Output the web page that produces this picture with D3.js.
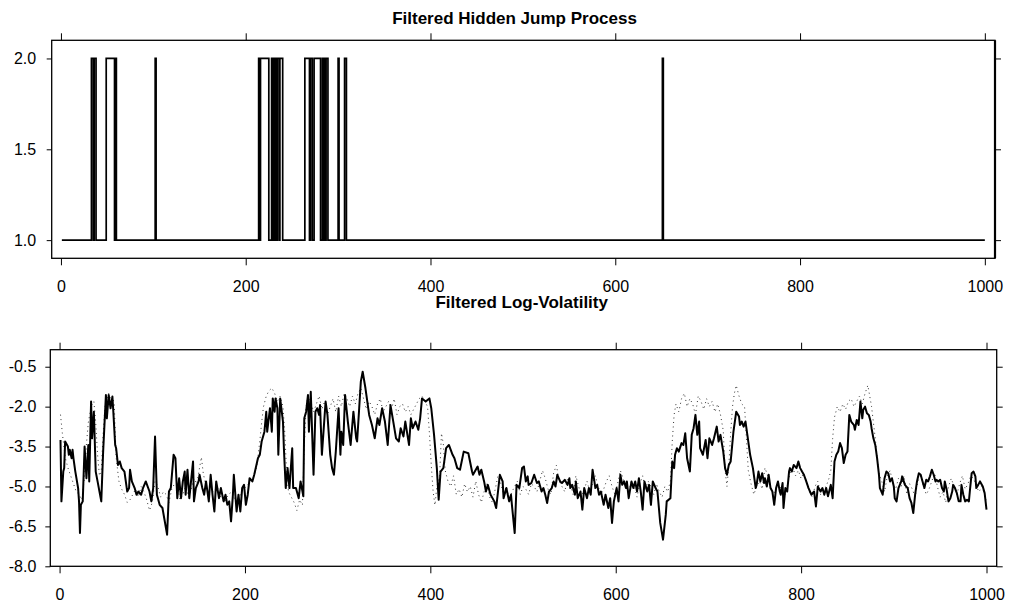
<!DOCTYPE html>
<html><head><meta charset="utf-8">
<script src="https://cdn.jsdelivr.net/npm/d3@7"></script>
<style>
body{margin:0;background:#fff}
svg{display:block}
text{font-family:"Liberation Sans",Arial,Helvetica,sans-serif}
</style>
</head><body>
<svg id="chart" width="1010" height="608"></svg>
<script>
// ---- tick labels / titles ----
const xTicks = [0, 200, 400, 600, 800, 1000];
const jumpTicks = [1.0, 1.5, 2.0];
const volTicks = [-0.5, -2.0, -3.5, -5.0, -6.5, -8.0];
const titles = ["Filtered Hidden Jump Process", "Filtered Log-Volatility"];

// ---- hidden jump process: change points (time, state) ----
const jumpT = [1,33,35,36,38,49,58,59,60,102,103,214,215,216,225,228,229,230,231,232,233,234,236,237,240,264,269,270,272,274,281,283,284,285,286,287,289,300,301,307,309,651,652,1000];
const jumpState = [1,2,1,2,1,2,1,2,1,2,1,2,1,2,1,2,1,2,1,2,1,2,1,2,1,2,1,2,1,2,1,2,1,2,1,2,1,2,1,2,1,2,1,1];

// ---- filtered log-volatility (solid), [time, value] ----
const filteredLogVol = [
[1,-3.25],[2,-5.56],[4,-4.44],[5,-4.31],[6,-3.31],[9,-3.50],[10,-3.81],[11,-3.62],[13,-3.94],[14,-3.62],[15,-3.94],[17,-4.44],[20,-5.06],[21,-5.56],[22,-6.75],[23,-5.69],[25,-5.56],[27,-3.50],[29,-4.69],[31,-3.44],[32,-4.81],[34,-1.81],[35,-3.19],[37,-2.19],[39,-4.44],[41,-4.81],[45,-5.56],[47,-3.69],[50,-1.56],[51,-2.44],[53,-1.56],[55,-2.06],[57,-1.62],[58,-2.19],[60,-3.44],[61,-3.56],[63,-4.19],[65,-4.06],[67,-4.31],[70,-4.44],[73,-5.19],[75,-5.06],[76,-4.37],[78,-4.81],[81,-5.06],[83,-5.31],[85,-5.19],[88,-5.31],[90,-5.06],[93,-4.81],[97,-5.19],[99,-5.56],[101,-5.06],[103,-3.12],[105,-5.31],[108,-5.69],[111,-5.81],[116,-6.81],[118,-5.19],[120,-5.06],[123,-3.81],[125,-3.94],[127,-5.44],[129,-4.69],[131,-5.44],[133,-4.81],[135,-4.44],[136,-5.31],[138,-4.37],[140,-5.44],[144,-4.06],[145,-5.56],[147,-5.06],[150,-4.81],[151,-4.56],[154,-5.06],[156,-5.31],[158,-4.81],[161,-5.56],[163,-4.56],[165,-5.31],[167,-5.94],[169,-4.81],[172,-5.44],[174,-5.06],[177,-5.56],[179,-5.31],[181,-5.69],[183,-5.56],[185,-6.31],[187,-5.31],[188,-4.56],[191,-5.94],[193,-5.31],[195,-5.94],[197,-5.06],[199,-4.94],[201,-5.69],[203,-5.31],[205,-4.69],[208,-4.81],[210,-4.56],[214,-3.94],[216,-3.81],[218,-3.31],[221,-2.94],[223,-2.19],[224,-2.94],[227,-2.06],[229,-2.94],[230,-1.69],[232,-2.19],[233,-1.69],[235,-2.06],[236,-3.81],[238,-1.69],[241,-2.56],[242,-3.56],[244,-5.06],[246,-4.31],
[248,-5.06],[251,-3.56],[252,-5.06],[255,-5.06],[258,-5.44],[260,-4.81],[263,-5.37],[264,-2.44],[266,-2.19],[268,-1.56],[269,-2.94],[271,-1.44],[274,-4.56],[276,-2.19],[278,-2.06],[280,-2.31],[281,-1.94],[283,-3.81],[287,-1.81],[289,-2.31],[292,-3.81],[294,-4.31],[296,-4.56],[298,-3.69],[301,-2.06],[303,-3.81],[304,-2.94],[306,-3.44],[308,-1.56],[311,-2.56],[314,-3.44],[317,-2.19],[320,-3.19],[321,-3.31],[323,-2.19],[325,-1.06],[327,-0.69],[330,-1.31],[334,-2.31],[337,-2.69],[340,-3.19],[343,-2.44],[345,-2.69],[348,-2.06],[351,-2.56],[354,-3.44],[357,-1.94],[360,-2.56],[363,-3.19],[366,-3.31],[368,-2.81],[371,-3.12],[373,-2.56],[377,-3.44],[379,-2.44],[381,-2.81],[384,-2.56],[387,-2.87],[389,-2.44],[391,-1.69],[395,-1.81],[399,-1.69],[401,-2.06],[404,-3.06],[407,-4.31],[409,-5.50],[411,-4.44],[414,-4.31],[417,-3.56],[420,-3.44],[424,-3.81],[426,-3.94],[429,-4.31],[432,-4.37],[436,-3.69],[441,-3.75],[445,-4.44],[446,-4.56],[451,-4.25],[453,-4.56],[455,-4.37],[458,-4.81],[460,-5.19],[462,-4.94],[465,-5.31],[469,-5.56],[471,-5.81],[475,-4.56],[478,-4.81],[479,-5.44],[482,-5.06],[485,-5.56],[487,-5.31],[488,-5.69],[491,-6.75],[493,-4.94],[496,-5.06],[499,-4.31],
[501,-4.25],[503,-4.81],[505,-4.62],[506,-4.94],[509,-4.87],[512,-4.56],[515,-4.87],[517,-4.81],[520,-5.19],[522,-5.06],[524,-5.31],[526,-5.62],[528,-5.19],[531,-5.06],[533,-4.81],[535,-5.00],[537,-4.56],[540,-4.81],[542,-4.87],[545,-4.75],[548,-4.94],[550,-4.69],[551,-5.06],[553,-4.94],[556,-5.31],[557,-4.81],[559,-5.44],[562,-5.19],[564,-5.87],[566,-5.06],[569,-5.44],[571,-5.06],[573,-5.31],[575,-4.37],[577,-4.81],[578,-5.06],[580,-4.94],[582,-5.31],[584,-5.19],[587,-5.69],[589,-5.31],[592,-5.81],[594,-5.44],[596,-6.37],[598,-5.56],[601,-5.06],[603,-5.56],[605,-4.56],[607,-4.94],[609,-4.81],[611,-5.06],[612,-4.81],[614,-5.44],[617,-4.81],[619,-5.06],[621,-4.81],[623,-5.19],[625,-4.69],[627,-5.19],[629,-5.87],[631,-4.81],[634,-5.19],[636,-4.94],[638,-5.69],[640,-4.81],[643,-5.06],[645,-5.19],[648,-6.37],[651,-7.00],[654,-6.06],[655,-5.56],[659,-5.44],[661,-4.06],[663,-4.31],[664,-3.81],[666,-3.56],[668,-3.69],[671,-3.37],[673,-3.44],[675,-3.00],[677,-3.94],[680,-4.44],[682,-3.06],[684,-2.81],[686,-2.31],[688,-3.06],[690,-2.56],[691,-3.56],[694,-3.81],[697,-3.25],[699,-3.94],[701,-3.19],[704,-3.44],[706,-3.19],[709,-2.75],[711,-3.31],[713,-3.06],[716,-3.69],[718,-4.31],[720,-4.56],[722,-4.19],[724,-4.06],[727,-2.94],[730,-2.19],[733,-2.37],[734,-2.69],[736,-2.56],[738,-2.75],[740,-2.56],[742,-3.06],[745,-3.81],[748,-4.31],[751,-5.06],[752,-4.94],
[754,-4.44],[756,-4.81],[758,-4.50],[760,-4.87],[761,-4.69],[763,-5.00],[765,-4.56],[767,-5.06],[769,-5.19],[771,-5.69],[773,-5.06],[775,-4.81],[777,-5.19],[778,-5.31],[780,-4.87],[781,-5.81],[783,-5.06],[785,-5.19],[787,-4.44],[788,-4.31],[790,-4.44],[792,-4.19],[795,-4.31],[797,-4.06],[799,-4.31],[801,-4.44],[803,-4.56],[805,-4.75],[808,-5.06],[811,-5.31],[814,-5.19],[816,-5.75],[818,-5.00],[821,-5.19],[823,-5.06],[825,-5.31],[827,-5.06],[829,-5.37],[832,-4.94],[834,-5.44],[836,-4.06],[838,-3.81],[840,-3.69],[842,-3.37],[844,-3.56],[846,-4.12],[848,-3.81],[850,-3.69],[852,-2.31],[854,-2.56],[857,-2.69],[858,-2.87],[860,-2.50],[862,-2.69],[864,-1.81],[866,-2.44],[867,-2.12],[869,-2.00],[871,-2.25],[873,-2.31],[875,-2.56],[876,-2.81],[878,-3.19],[880,-3.44],[882,-3.94],[884,-4.56],[885,-5.06],[888,-5.31],[890,-4.69],[892,-4.44],[894,-4.50],[896,-4.81],[898,-4.69],[900,-5.00],[901,-5.44],[903,-5.56],[905,-5.06],[908,-4.81],[909,-4.62],[912,-4.94],[915,-5.06],[917,-5.44],[919,-5.62],[921,-6.00],[923,-5.31],[925,-4.81],[927,-4.50],[929,-4.56],[931,-4.81],[933,-5.06],[935,-4.75],[937,-4.81],[939,-4.62],[941,-4.37],[943,-4.56],[945,-4.81],[946,-4.75],[948,-4.81],[950,-4.75],[952,-5.06],[954,-5.19],[955,-4.81],[957,-5.12],[959,-5.56],[961,-5.44],[963,-5.19],[964,-4.94],[966,-5.06],[968,-5.25],[970,-5.56],[972,-5.56],[973,-4.94],[975,-5.31],[977,-5.56],[979,-5.50],[981,-5.56],[982,-5.19],[984,-4.50],[986,-4.44],[988,-4.62],[989,-5.06],[991,-4.94],[993,-4.81],[996,-5.00],[998,-5.25],[1000,-5.87]
];

// ---- dotted reference log-volatility, [time, value] ----
const referenceLogVol = [
[1,-2.3],[3,-3.0],[6,-3.9],[9,-4.3],[12,-4.6],[15,-4.9],[18,-5.2],[21,-5.3],[24,-5.5],[27,-4.6],[29,-3.4],[31,-2.6],[33,-2.2],[35,-1.9],[37,-1.8],[39,-2.6],[41,-3.8],[43,-4.6],[45,-4.4],[47,-3.0],[49,-2.0],[51,-1.7],[53,-1.5],[55,-1.7],[57,-1.6],[59,-1.9],[61,-3.9],[64,-4.8],[67,-5.1],[70,-5.3],[73,-5.6],[76,-5.5],[79,-5.3],[82,-5.1],[85,-5.4],[88,-5.0],[91,-5.2],[94,-5.5],[97,-5.9],[100,-5.6],[103,-4.8],[106,-5.0],[109,-5.4],[112,-5.2],[115,-5.3],[118,-5.6],[121,-5.1],[124,-4.9],[127,-5.0],[130,-5.5],[133,-5.3],[136,-5.0],[139,-5.4],[142,-5.1],[145,-4.7],[148,-4.9],[151,-4.3],[153,-3.9],[155,-4.5],[158,-5.0],[162,-5.3],[166,-5.2],[170,-5.0],[174,-5.4],[178,-5.6],[182,-5.3],[186,-5.2],[190,-5.6],[194,-5.4],[198,-5.1],[202,-5.0],[206,-4.8],[210,-4.6],[213,-4.2],[216,-3.3],[218,-2.6],[220,-2.0],[223,-1.6],[226,-1.4],[229,-1.3],[232,-1.5],[235,-1.8],[238,-1.6],[241,-2.0],[243,-3.0],[245,-4.5],[247,-5.2],[250,-5.4],[253,-5.6],[256,-5.9],[259,-5.5],[262,-5.7],[264,-3.5],[266,-2.0],[268,-1.6],[271,-1.8],[274,-2.2],[277,-1.9],[280,-1.6],[283,-2.1],[286,-1.8],[289,-2.3],[292,-2.0],[295,-1.7],[298,-2.2],[301,-1.6],[304,-2.0],[307,-1.5],[310,-1.7],[313,-2.0],[316,-1.6],[319,-1.9],[322,-1.5],[325,-1.3],[328,-1.7],[331,-2.1],[334,-1.8],[337,-2.0],[340,-2.3],[343,-1.9],[346,-1.7],[349,-2.2],[352,-2.0],[355,-1.8],[358,-2.1],[361,-1.7],[364,-2.3],[367,-2.0],[370,-1.9],[373,-2.2],[376,-2.0],[379,-2.3],[382,-2.1],[385,-1.9],[388,-1.7],[391,-1.6],[394,-1.8],[397,-2.0],[399,-3.0],[401,-4.2],[403,-5.2],[405,-5.7],[407,-5.0],[410,-4.6],[412,-3.0],[414,-3.4],[416,-4.4],[419,-4.8],[422,-5.0],[425,-4.6],[428,-5.3],[431,-5.1],[434,-5.4],[437,-4.9],[440,-5.2],[443,-5.0],[446,-5.4],[449,-4.8],[452,-5.3],[455,-5.6],[458,-5.2],[461,-4.9],[464,-5.4],[467,-5.6],[470,-5.1],[473,-4.6],[476,-4.9],[479,-5.3],[482,-5.0],[485,-5.5],[488,-5.2],[491,-5.0],[494,-4.8],[497,-5.3],[500,-5.0],
[503,-5.1],[506,-5.3],[509,-4.9],[512,-5.0],[515,-5.2],[518,-4.8],[521,-4.4],[524,-4.7],[527,-5.1],[530,-5.3],[533,-4.5],[536,-4.2],[539,-4.8],[542,-5.0],[545,-5.2],[548,-4.7],[551,-4.9],[554,-5.3],[557,-4.6],[560,-5.0],[563,-5.4],[566,-5.1],[569,-4.8],[572,-5.2],[575,-4.9],[578,-4.6],[581,-5.0],[584,-5.3],[587,-5.1],[590,-4.8],[593,-4.6],[596,-5.0],[599,-5.3],[602,-4.9],[605,-4.4],[608,-4.7],[611,-5.0],[614,-5.2],[617,-4.8],[620,-5.0],[623,-5.4],[626,-4.9],[629,-4.6],[632,-5.1],[635,-4.8],[638,-5.0],[641,-5.3],[644,-4.9],[647,-5.2],[650,-5.4],[653,-5.0],[656,-5.2],[659,-4.8],[661,-3.3],[663,-2.3],[665,-1.9],[668,-2.2],[671,-1.7],[674,-1.5],[677,-2.0],[680,-1.7],[683,-1.9],[686,-2.3],[689,-1.6],[692,-1.8],[695,-2.1],[698,-1.7],[701,-2.0],[704,-1.8],[707,-2.2],[710,-1.9],[713,-2.3],[716,-2.9],[718,-4.4],[720,-5.0],[722,-4.2],[724,-3.0],[726,-2.0],[728,-1.5],[730,-1.2],[733,-1.6],[736,-1.9],[739,-2.0],[741,-3.2],[743,-4.4],[746,-4.9],[749,-5.3],[752,-5.0],[755,-4.8],[758,-5.1],[761,-4.3],[764,-4.6],[767,-5.0],[770,-5.3],[773,-5.1],[776,-4.9],[779,-5.2],[782,-5.4],[785,-5.0],[788,-4.5],[791,-4.3],[794,-4.6],[797,-4.4],[800,-4.7],[803,-4.5],[806,-4.9],[809,-5.2],[812,-5.4],[815,-5.0],[818,-4.8],[821,-5.3],[824,-5.1],[827,-5.0],[830,-4.7],[832,-4.4],[834,-3.2],[836,-2.4],[839,-2.0],[842,-2.2],[845,-1.9],[848,-2.1],[851,-1.8],[854,-1.7],[857,-2.0],[860,-1.8],[863,-1.6],[866,-1.9],[869,-1.5],[872,-1.2],[874,-1.6],[876,-2.0],[878,-2.6],[880,-3.2],[882,-3.9],[884,-4.5],[887,-4.8],[890,-5.2],[893,-4.6],[896,-4.4],[899,-4.9],[902,-5.1],[905,-4.7],[908,-5.0],[911,-4.6],[914,-5.3],[917,-4.9],[920,-5.1],[923,-5.4],[926,-4.8],[929,-4.6],[932,-5.0],[935,-5.3],[938,-5.1],[941,-4.8],[944,-4.5],[947,-5.0],[950,-5.4],[953,-5.2],[956,-5.6],[959,-5.0],[962,-4.7],[965,-5.0],[968,-5.3],[971,-4.9],[974,-4.6],[977,-5.1],[980,-4.9],[983,-4.6],[986,-4.7],[989,-5.0],[992,-5.2],[995,-5.0],[998,-5.3],[1000,-5.6]
];

// ================= drawing =================
const svg = d3.select("#chart");
const fmt = d => d.toFixed(1);
const tFmt = d => String(d);

function panel(opts) {
  const {x0, x1, y0, y1, yDomain, yTicks, padX, padY, title, titleX, titleY} = opts;
  const x = d3.scaleLinear().domain([-10, 1011]).range([x0, x1]);
  const y = d3.scaleLinear().domain(yDomain).range([y1, y0]);
  const g = svg.append("g");

  const styleAxis = (sel) => {
    sel.select(".domain").remove();
    sel.selectAll(".tick line").attr("stroke", "#000").attr("stroke-width", 1);
    sel.selectAll(".tick text").attr("fill", "#000")
      .style("font-size", "16px").style("font-family", '"Liberation Sans", Arial, sans-serif');
  };

  g.append("g").attr("transform", `translate(0,${y1})`)
    .call(d3.axisBottom(x).tickValues(xTicks).tickFormat(tFmt).tickSize(7).tickPadding(padX))
    .call(styleAxis);
  g.append("g").attr("transform", `translate(0,${y0})`)
    .call(d3.axisTop(x).tickValues(xTicks).tickFormat("").tickSize(7))
    .call(styleAxis);
  g.append("g").attr("transform", `translate(${x0},0)`)
    .call(d3.axisLeft(y).tickValues(yTicks).tickFormat(fmt).tickSize(5).tickPadding(padY))
    .call(styleAxis);
  g.append("g").attr("transform", `translate(${x1},0)`)
    .call(d3.axisRight(y).tickValues(yTicks).tickFormat("").tickSize(6))
    .call(styleAxis);

  g.append("rect").attr("x", x0).attr("y", y0).attr("width", x1 - x0).attr("height", y1 - y0)
    .attr("fill", "none").attr("stroke", "#000").attr("stroke-width", 1.3);

  svg.append("text").attr("x", titleX).attr("y", titleY).attr("text-anchor", "middle")
    .style("font-size", "17px").style("font-weight", "bold").text(title);
  return {x, y, g};
}

// top panel: hidden jump process
const p1 = panel({x0: 51.7, x1: 995, y0: 40.3, y1: 258.3, yDomain: [0.9, 2.1], yTicks: jumpTicks,
  padX: 15.5, padY: 10.5, title: titles[0], titleX: 514.5, titleY: 24});
p1.g.append("line").attr("x1", 995).attr("x2", 995).attr("y1", 40.3).attr("y2", 258.3)
  .attr("stroke", "#000").attr("stroke-width", 2.2);

const jumpData = jumpT.map((t, i) => [t, jumpState[i]]);
p1.g.append("path").datum(jumpData)
  .attr("fill", "none").attr("stroke", "#000").attr("stroke-width", 1.7)
  .attr("d", d3.line().x(d => p1.x(d[0])).y(d => p1.y(d[1])).curve(d3.curveStepAfter));

// bottom panel: filtered log-volatility
const p2 = panel({x0: 50.3, x1: 996.7, y0: 349.7, y1: 566.3, yDomain: [-8, 0.14], yTicks: volTicks,
  padX: 15, padY: 9, title: titles[1], titleX: 521.7, titleY: 308});

p2.g.append("path").datum(referenceLogVol)
  .attr("fill", "none").attr("stroke", "#333").attr("stroke-width", 1)
  .attr("stroke-dasharray", "1,3.5")
  .attr("d", d3.line().x(d => p2.x(d[0])).y(d => p2.y(d[1])));

p2.g.append("path").datum(filteredLogVol)
  .attr("fill", "none").attr("stroke", "#000").attr("stroke-width", 2)
  .attr("stroke-linejoin", "round")
  .attr("d", d3.line().x(d => p2.x(d[0])).y(d => p2.y(d[1])));
</script>
</body></html>
